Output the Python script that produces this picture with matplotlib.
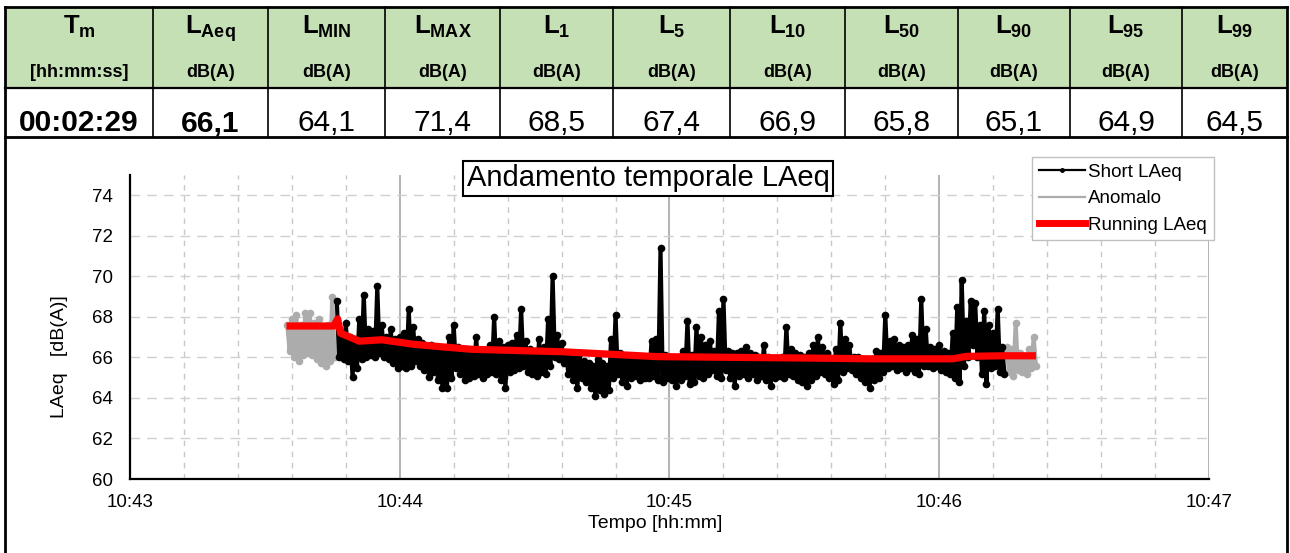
import matplotlib
matplotlib.use('Agg')
import matplotlib.pyplot as plt
from matplotlib.patches import Rectangle
from matplotlib.lines import Line2D
from matplotlib.ticker import MultipleLocator
import numpy as np

plt.rcParams['font.family'] = ['Liberation Sans', 'DejaVu Sans']
plt.rcParams['mathtext.fontset'] = 'custom'
plt.rcParams['mathtext.rm'] = 'Liberation Sans'
plt.rcParams['mathtext.bf'] = 'Liberation Sans:bold'
plt.rcParams['mathtext.it'] = 'Liberation Sans:italic'

# --- tabella riassuntiva ---
header_sym = [r'$\mathbf{T}_{\mathbf{m}}$', r'$\mathbf{L}_{\mathbf{Aeq}}$', r'$\mathbf{L}_{\mathbf{MIN}}$',
              r'$\mathbf{L}_{\mathbf{MAX}}$', r'$\mathbf{L}_{\mathbf{1}}$', r'$\mathbf{L}_{\mathbf{5}}$',
              r'$\mathbf{L}_{\mathbf{10}}$', r'$\mathbf{L}_{\mathbf{50}}$', r'$\mathbf{L}_{\mathbf{90}}$',
              r'$\mathbf{L}_{\mathbf{95}}$', r'$\mathbf{L}_{\mathbf{99}}$']
header_unit = ['[hh:mm:ss]'] + ['dB(A)'] * 10
table_values = ['00:02:29', '66,1', '64,1', '71,4', '68,5', '67,4', '66,9', '65,8', '65,1', '64,9', '64,5']
value_bold = [True, True] + [False] * 9

# --- serie temporali (secondi dopo le 10:43:00, una coppia max/min per secondo) ---
short_start = 46
short_hi = [68.8, 67.2, 67.7, 67.0, 66.9, 67.9, 69.1, 67.4, 67.3, 69.5,
            67.6, 67.0, 67.4, 66.9, 67.0, 67.2, 68.4, 67.5, 66.9, 66.7,
            66.5, 66.6, 66.3, 66.2, 66.3, 67.0, 67.6, 66.5, 66.2, 66.2,
            66.3, 67.0, 66.3, 66.2, 66.6, 68.0, 66.8, 66.5, 66.6, 66.7,
            67.1, 68.4, 66.8, 66.4, 66.3, 66.9, 66.5, 67.9, 70.0, 67.1,
            66.7, 66.2, 66.0, 66.0, 66.2, 65.8, 65.7, 65.6, 65.9, 65.7,
            65.6, 66.9, 68.1, 66.2, 65.9, 65.9, 65.8, 65.9, 65.8, 66.0,
            66.8, 66.9, 71.4, 66.1, 66.0, 65.9, 66.0, 66.3, 67.8, 66.1,
            67.5, 67.0, 66.6, 66.8, 66.3, 68.3, 68.9, 66.3, 66.2, 66.2,
            66.3, 66.5, 66.2, 66.1, 66.0, 66.6, 66.0, 65.9, 65.9, 66.0,
            67.5, 66.4, 66.2, 66.1, 66.0, 66.2, 66.6, 67.0, 66.5, 66.2,
            65.9, 66.4, 67.7, 66.9, 66.6, 66.0, 66.0, 65.9, 65.8, 65.9,
            66.3, 66.2, 68.1, 66.8, 66.9, 66.6, 66.5, 66.6, 67.1, 66.9,
            68.9, 67.4, 66.5, 66.4, 66.6, 66.3, 66.2, 67.2, 68.5, 69.8,
            67.8, 68.8, 68.7, 67.6, 68.3, 67.6, 67.2, 68.4, 66.5]
short_lo = [66.0, 65.9, 65.8, 65.05, 65.5, 65.9, 66.0, 66.1, 66.0, 66.2,
            66.0, 65.9, 65.7, 65.5, 65.6, 65.5, 65.6, 65.8, 65.6, 65.4,
            65.05, 65.3, 64.9, 64.5, 64.5, 65.0, 65.5, 65.2, 64.9, 65.0,
            65.1, 65.2, 65.0, 65.2, 65.3, 65.2, 64.9, 64.5, 65.3, 65.4,
            65.5, 65.6, 65.3, 65.2, 65.1, 65.3, 65.2, 65.6, 66.0, 65.9,
            65.7, 65.2, 64.9, 64.5, 65.0, 64.8, 64.5, 64.1, 64.4, 64.2,
            64.4, 65.0, 65.2, 64.8, 64.6, 65.0, 65.1, 64.9, 65.0, 65.0,
            65.1, 64.9, 64.8, 65.0, 64.9, 64.6, 64.9, 65.1, 64.7, 64.8,
            65.1, 65.0, 65.2, 65.4, 65.1, 65.0, 65.4, 65.0, 64.6, 65.1,
            65.2, 65.0, 65.2, 64.9, 65.1, 64.9, 64.6, 65.0, 65.1, 65.0,
            65.2, 65.1, 64.9, 64.8, 64.6, 64.9, 65.1, 65.3, 65.2, 65.0,
            64.7, 64.9, 65.3, 65.5, 65.4, 65.2, 65.0, 64.8, 64.5, 64.9,
            65.0, 65.3, 65.5, 65.6, 65.4, 65.5, 65.3, 65.5, 65.3, 65.2,
            65.6, 65.6, 65.5, 65.6, 65.4, 65.3, 65.2, 65.0, 64.8, 65.6,
            66.0, 66.6, 66.0, 65.2, 64.7, 65.5, 65.6, 65.3, 65.2]

anom1_start = 35
anom1_hi = [67.6, 67.9, 68.1, 67.6, 68.2, 68.2, 67.7, 67.9, 67.5, 67.6, 69.0]
anom1_lo = [66.3, 66.0, 65.8, 66.1, 66.2, 66.1, 65.9, 65.7, 65.6, 65.8, 66.0]
anom2_start = 195
anom2_hi = [66.5, 66.4, 67.7, 66.2, 66.0, 66.4, 67.0]
anom2_lo = [65.3, 65.1, 65.4, 65.3, 65.2, 65.5, 65.6]

running_t = [34.8, 45.3, 46.2, 46.8, 51, 56, 63, 69, 76, 96, 117, 135, 150, 165, 183, 186, 194, 201.5]
running_v = [67.55, 67.55, 67.9, 67.2, 66.8, 66.87, 66.65, 66.53, 66.4, 66.28, 66.04, 66.0,
             65.97, 65.93, 65.93, 66.05, 66.08, 66.08]

time_ticks = [0, 60, 120, 180, 240]
time_labels = ['10:43', '10:44', '10:45', '10:46', '10:47']
level_ticks = [60, 62, 64, 66, 68, 70, 72, 74]


def zigzag(start, hi, lo):
    # alterna massimo e minimo di ogni secondo
    t = []
    v = []
    for i in range(len(hi)):
        t += [start + i, start + i + 0.5]
        v += [hi[i], lo[i]]
    return np.array(t), np.array(v)


W, H = 1290, 553
fig = plt.figure(figsize=(W / 100, H / 100), dpi=100)

# overlay in pixel per tabella e cornice
bg = fig.add_axes([0, 0, 1, 1])
bg.set_xlim(0, W)
bg.set_ylim(H, 0)
bg.axis('off')

cols = [5, 153, 268, 385, 500, 613, 730, 845, 958, 1070, 1182, 1287]
top, mid, bot = 7, 88, 137
bg.add_patch(Rectangle((cols[0], top), cols[-1] - cols[0], mid - top, facecolor='#C5E0B4', edgecolor='none'))
bg.plot([cols[0], cols[-1]], [top, top], color='black', lw=2)
bg.plot([cols[0], cols[-1]], [mid, mid], color='black', lw=1.6)
bg.plot([cols[0], cols[-1]], [bot, bot], color='black', lw=2)
for i, x in enumerate(cols):
    lw = 2 if i in (0, len(cols) - 1) else 1.2
    bg.plot([x, x], [top, bot], color='black', lw=lw)
# cornice del grafico
bg.plot([cols[0], cols[0]], [bot, H], color='black', lw=2)
bg.plot([cols[-1], cols[-1]], [bot, H], color='black', lw=2)

for i in range(len(header_sym)):
    xc = (cols[i] + cols[i + 1]) / 2
    bg.text(xc, 34, header_sym[i], ha='center', va='baseline', fontsize=18.5)
    bg.text(xc, 77, header_unit[i], ha='center', va='baseline', fontsize=13, fontweight='bold')
    bg.text(xc, 131, table_values[i], ha='center', va='baseline', fontsize=21.5,
            fontweight='bold' if value_bold[i] else 'normal')

# grafico
ax = fig.add_axes([130 / W, 1 - 479 / H, (1209 - 130) / W, 304 / H])
ax.set_facecolor('none')

t1, v1 = zigzag(anom1_start, anom1_hi, anom1_lo)
t2, v2 = zigzag(anom2_start, anom2_hi, anom2_lo)
ts, vs = zigzag(short_start, short_hi, short_lo)
gray = '#acacac'
ax.plot(t1, v1, color=gray, lw=3, marker='o', ms=5.5, mew=0, zorder=3)
ax.plot(t2, v2, color=gray, lw=3, marker='o', ms=5.5, mew=0, zorder=3)
ax.plot(ts, vs, color='black', lw=3, marker='o', ms=5.5, mew=0, zorder=4)
ax.plot(running_t, running_v, color='#ff0000', lw=5.2, zorder=5, solid_capstyle='butt')

ax.set_xlim(0, 240)
ax.set_ylim(60, 75)
ax.set_xticks(time_ticks)
ax.set_xticklabels(time_labels)
ax.set_yticks(level_ticks)
ax.xaxis.set_minor_locator(MultipleLocator(12))
ax.tick_params(axis='both', which='both', length=0, labelsize=13.5)
ax.tick_params(axis='y', pad=12)
ax.tick_params(axis='x', pad=11)

ax.grid(False)
ax.yaxis.grid(True, which='major', linestyle=(0, (7, 5)), color='#d0d0d0', lw=1)
ax.xaxis.grid(True, which='major', color='#a6a6a6', lw=1.2)
ax.xaxis.grid(True, which='minor', linestyle=(0, (4, 4)), color='#c8c8c8', lw=1)
ax.set_axisbelow(True)
for s in ['top', 'right']:
    ax.spines[s].set_visible(False)
ax.spines['left'].set_linewidth(1.6)
ax.spines['bottom'].set_linewidth(1.6)

ax.set_ylabel('LAeq   [dB(A)]', fontsize=14)
ax.yaxis.set_label_coords((68 - 130) / 1079, (479 - 357) / 304)
ax.set_xlabel('Tempo [hh:mm]', fontsize=14)
ax.xaxis.set_label_coords((655 - 130) / 1079, (479 - 515) / 304)

fig.text(648 / W, 1 - 178 / H, 'Andamento temporale LAeq', ha='center', va='center', fontsize=21,
         bbox=dict(boxstyle='square,pad=0.12', facecolor='white', edgecolor='black', lw=1.5), zorder=10)

handles = [Line2D([], [], color='black', lw=1.6, marker='o', ms=2.5),
           Line2D([], [], color=gray, lw=1.6),
           Line2D([], [], color='#ff0000', lw=5)]
leg = fig.legend(handles, ['Short LAeq', 'Anomalo', 'Running LAeq'], loc='upper left',
                 bbox_to_anchor=(1032 / W, 1 - 157 / H), fontsize=13.5, frameon=True, fancybox=False,
                 edgecolor='#c0c0c0', framealpha=1, handlelength=2.5, handletextpad=0.15,
                 labelspacing=0.5, borderpad=0.35, borderaxespad=0)
leg.get_frame().set_linewidth(1)

fig.savefig('out.png', dpi=100)
